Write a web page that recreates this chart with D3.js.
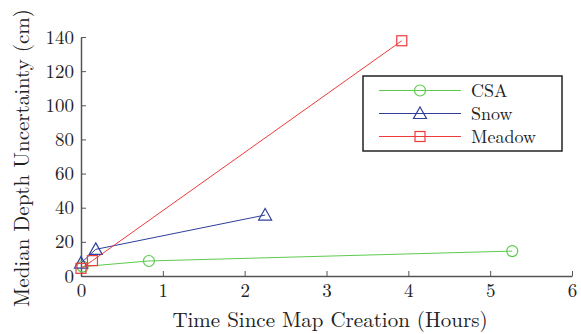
<!DOCTYPE html>
<html>
<head>
<meta charset="utf-8">
<script src="https://cdn.jsdelivr.net/npm/d3@7"></script>
<style>
  body { margin: 0; background: #fff; }
  svg text { font-family: "Latin Modern Roman", "DejaVu Serif", serif; fill: #222; }
</style>
</head>
<body>
<div id="chart"></div>
<script>
// values
const seriesNames = ["CSA", "Snow", "Meadow"];
const csaHours = [0.02, 0.83, 5.27];
const csaDepth = [5.5, 8.8, 14.6];
const snowHours = [0.0, 0.18, 2.25];
const snowDepth = [7.6, 15.6, 35.7];
const meadowHours = [0.0, 0.14, 3.92];
const meadowDepth = [4.5, 9.0, 137.8];
const xTicks = [0, 1, 2, 3, 4, 5, 6];
const yTicks = [0, 20, 40, 60, 80, 100, 120, 140];

const colors = {CSA: "#5ccb4c", Snow: "#2e3f9c", Meadow: "#ee3a3a"};
const series = [
  {name: "CSA", marker: "circle", pts: csaHours.map((h, i) => [h, csaDepth[i]])},
  {name: "Snow", marker: "triangle", pts: snowHours.map((h, i) => [h, snowDepth[i]])},
  {name: "Meadow", marker: "square", pts: meadowHours.map((h, i) => [h, meadowDepth[i]])}
];

const W = 581, H = 334;
const margin = {top: 37, right: 9, bottom: 58, left: 81};
const width = W - margin.left - margin.right;
const height = H - margin.top - margin.bottom;

const svg = d3.select("#chart").append("svg")
    .attr("width", W)
    .attr("height", H);
const g = svg.append("g")
    .attr("transform", "translate(" + margin.left + "," + margin.top + ")");

const x = d3.scaleLinear().domain([0, 6]).range([0, width]);
const y = d3.scaleLinear().domain([0, 140]).range([height, 0]);

// axes, ticks pointing inwards
const xAxis = g.append("g")
    .attr("transform", "translate(0," + height + ")")
    .call(d3.axisBottom(x).tickValues(xTicks).tickFormat(d3.format("d"))
      .tickSize(-5).tickPadding(8).tickSizeOuter(0));
const yAxis = g.append("g")
    .call(d3.axisLeft(y).tickValues(yTicks).tickFormat(d3.format("d"))
      .tickSize(-5).tickPadding(7).tickSizeOuter(0));
[xAxis, yAxis].forEach(a => {
  a.select(".domain").attr("stroke", "#555").attr("stroke-width", 1.5);
  a.selectAll(".tick line").attr("stroke", "#555").attr("stroke-width", 1);
  a.selectAll(".tick text").style("font-size", "19px").attr("fill", "#222");
});
xAxis.selectAll(".tick text").attr("dy", "0.7em");

const line = d3.line().x(d => x(d[0])).y(d => y(d[1]));

function drawMarker(sel, type, color) {
  if (type === "circle") {
    sel.append("circle").attr("r", 5.5);
  } else if (type === "triangle") {
    sel.append("path").attr("d", "M0,-6.5L6.5,5L-6.5,5Z");
  } else {
    sel.append("rect").attr("x", -5).attr("y", -5).attr("width", 10).attr("height", 10);
  }
  sel.selectAll("*").attr("fill", "none").attr("stroke", color).attr("stroke-width", 1.2);
}

series.forEach(s => {
  g.append("path")
    .datum(s.pts)
    .attr("d", line)
    .attr("fill", "none")
    .attr("stroke", colors[s.name])
    .attr("stroke-width", 1);
  g.selectAll(".m-" + s.name)
    .data(s.pts)
    .enter().append("g")
    .attr("class", "m-" + s.name)
    .attr("transform", d => "translate(" + x(d[0]) + "," + y(d[1]) + ")")
    .each(function() { drawMarker(d3.select(this), s.marker, colors[s.name]); });
});

// axis titles
svg.append("text")
    .attr("x", 330)
    .attr("y", 327)
    .attr("text-anchor", "middle")
    .style("font-size", "21px")
    .text("Time Since Map Creation (Hours)");
svg.append("text")
    .attr("transform", "translate(29," + 158 + ") rotate(-90)")
    .attr("text-anchor", "middle")
    .style("font-size", "21px")
    .text("Median Depth Uncertainty (cm)");

// legend
const legend = svg.append("g").attr("transform", "translate(363,76)");
legend.append("rect")
    .attr("width", 199).attr("height", 75)
    .attr("fill", "#fff").attr("stroke", "#222").attr("stroke-width", 1.5);
seriesNames.forEach((name, i) => {
  const s = series[i];
  const row = legend.append("g").attr("transform", "translate(0," + (14.5 + i * 23) + ")");
  row.append("line").attr("x1", 16).attr("x2", 98)
    .attr("stroke", colors[name]).attr("stroke-width", 1);
  const m = row.append("g").attr("transform", "translate(57,0)");
  drawMarker(m, s.marker, colors[name]);
  row.append("text").attr("x", 108).attr("dy", "0.35em")
    .style("font-size", "18px").text(name);
});
</script>
</body>
</html>
